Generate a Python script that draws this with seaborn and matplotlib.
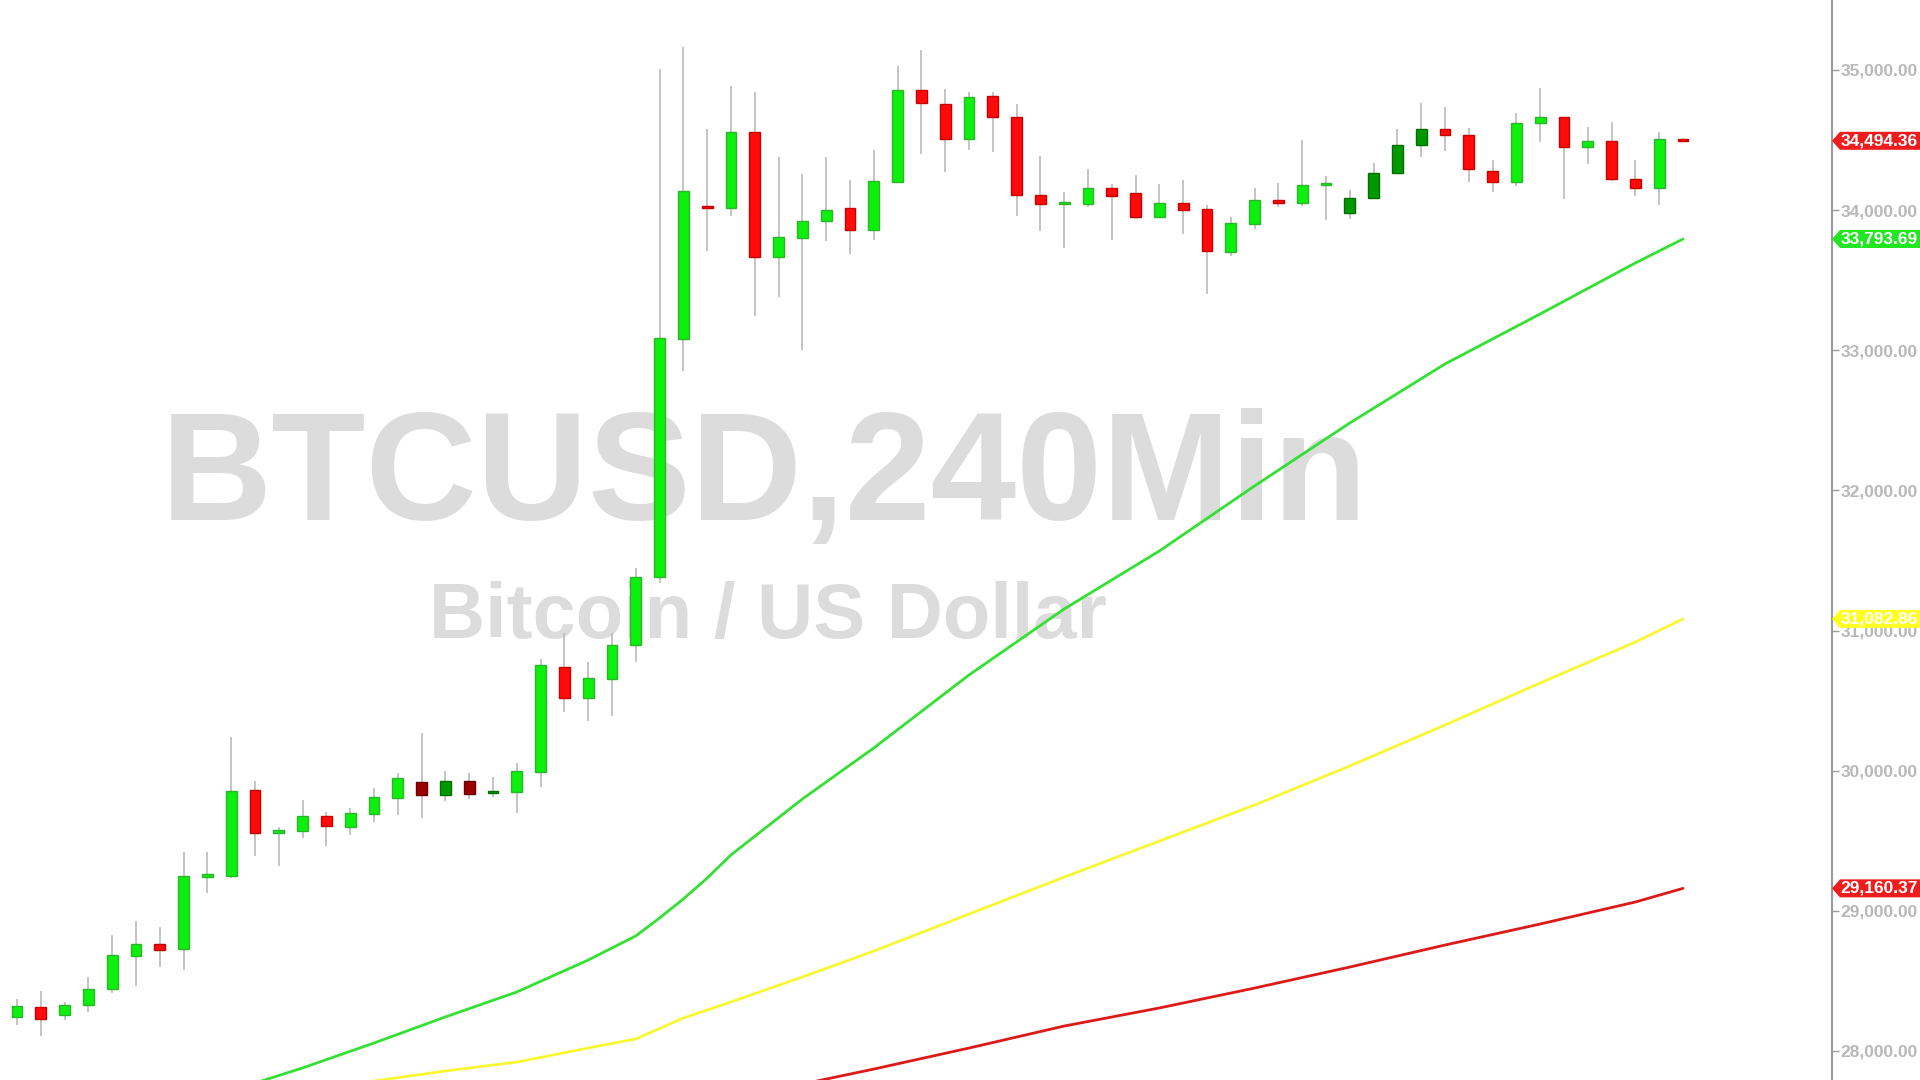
import numpy as np
import pandas as pd
import seaborn as sns
import matplotlib
matplotlib.use("Agg")
import matplotlib.pyplot as plt
from matplotlib.patches import Polygon

# 4h candles (left to right)
candle_open = [28243, 28314, 28257, 28328, 28442, 28678, 28763, 28728, 29241, 29249,
               29862, 29555, 29570, 29677, 29598, 29691, 29805, 29919, 29827, 29927,
               29841, 29848, 29991, 30740, 30519, 30654, 30897, 31382, 33080, 34030,
               34015, 34558, 33666, 33801, 33923, 34015, 33858, 34201, 34857, 34757,
               34508, 34814, 34665, 34108, 34044, 34044, 34158, 34122, 33951, 34051,
               34008, 33701, 33901, 34072, 34051, 34179, 33980, 34087, 34265, 34465,
               34579, 34536, 34279, 34201, 34622, 34665, 34451, 34493, 34222, 34158,
               34505]
candle_high = [28371, 28428, 28350, 28528, 28828, 28928, 28885, 29420, 29420, 30240,
               29926, 29598, 29791, 29705, 29734, 29877, 29984, 30269, 29998, 29984,
               29955, 30055, 30797, 30983, 30776, 30983, 31446, 35007, 35164, 34579,
               34886, 34843, 34379, 34258, 34379, 34215, 34429, 35029, 35143, 34864,
               34843, 34843, 34757, 34386, 34129, 34294, 34187, 34251, 34187, 34215,
               34037, 33951, 34158, 34194, 34500, 34244, 34144, 34336, 34579, 34765,
               34736, 34586, 34358, 34693, 34872, 34665, 34593, 34629, 34358, 34558,
               34515]
candle_low = [28185, 28107, 28221, 28278, 28414, 28464, 28599, 28578, 29127, 29234,
              29391, 29320, 29520, 29463, 29541, 29634, 29684, 29662, 29784, 29798,
              29812, 29698, 29884, 30419, 30355, 30390, 30776, 31339, 32852, 33708,
              33958, 33245, 33380, 33002, 33780, 33687, 33787, 34201, 34401, 34272,
              34429, 34415, 33958, 33851, 33730, 34022, 33787, 33937, 33951, 33830,
              33402, 33673, 33865, 34022, 34030, 33930, 33937, 34087, 34265, 34379,
              34422, 34201, 34129, 34172, 34486, 34079, 34329, 34208, 34101, 34037,
              34490]
candle_close = [28321, 28228, 28328, 28442, 28685, 28763, 28721, 29249, 29263, 29855,
                29555, 29577, 29677, 29605, 29698, 29812, 29948, 29827, 29927, 29834,
                29848, 29998, 30754, 30519, 30661, 30897, 31382, 33088, 34137, 34015,
                34558, 33666, 33808, 33923, 34001, 33858, 34208, 34857, 34765, 34508,
                34807, 34665, 34108, 34044, 34051, 34158, 34101, 33951, 34051, 34001,
                33708, 33908, 34072, 34051, 34179, 34187, 34087, 34265, 34465, 34579,
                34536, 34294, 34201, 34622, 34665, 34451, 34493, 34222, 34158, 34508,
                34494.36]
# u = up, d = down, U / D = dark variants
candle_kind = list("uduuuuduuu" "duuduuuDUD" "Uuuduuuuud" "uduuuduudd"
                   "uddduuddud" "duuduuUUUU" "ddduududdud")

# moving averages, read at candle positions
ma_fast_idx = [10, 12, 15, 18, 21, 24, 26, 27, 28, 29, 30, 33, 36, 40, 44, 48, 52, 56, 60, 64, 68, 70]
ma_fast_val = [27771, 27879, 28057, 28243, 28421, 28649, 28821, 28949, 29085, 29234, 29399,
               29798, 30162, 30683, 31154, 31568, 32032, 32481, 32902, 33259, 33623, 33793.69]
ma_mid_idx = [15, 18, 21, 24, 26, 28, 30, 33, 36, 40, 44, 48, 52, 56, 60, 64, 68, 70]
ma_mid_val = [27786, 27857, 27921, 28021, 28086, 28235, 28350, 28528, 28713, 28977, 29241,
              29498, 29755, 30034, 30326, 30626, 30918, 31082.86]
ma_slow_idx = [33, 36, 40, 44, 48, 52, 56, 60, 64, 68, 70]
ma_slow_val = [27764, 27871, 28021, 28178, 28307, 28449, 28599, 28756, 28906, 29063, 29160.37]

ticks = [28000, 29000, 30000, 31000, 32000, 33000, 34000, 35000]

sns.set_theme(style="white")
plt.rcParams["font.family"] = ["Liberation Sans", "DejaVu Sans"]

fig = plt.figure(figsize=(19.2, 10.8), dpi=100)
ax = fig.add_axes([0, 0, 1832 / 1920, 1])
ax.set_facecolor("white")
ax.set_xlim(-0.714, 76.26)
ax.set_ylim(27793, 35499)

# watermark
ax.text(0.417, 0.5185, "BTCUSD,240Min", transform=ax.transAxes, ha="center", va="baseline",
        fontsize=111, weight="bold", color="#dcdcdc", zorder=0)
ax.text(0.419, 0.4093, "Bitcoin / US Dollar", transform=ax.transAxes, ha="center", va="baseline",
        fontsize=56, weight="bold", color="#dcdcdc", zorder=0)

# moving averages
lines = [(ma_slow_idx, ma_slow_val, "#dd1a1a"),
         (ma_mid_idx, ma_mid_val, "#f7f733"),
         (ma_fast_idx, ma_fast_val, "#33e033")]
for idx, val, col in lines:
    df = pd.DataFrame({"i": idx, "v": val})
    sns.lineplot(data=df, x="i", y="v", ax=ax, color=col, lw=2, sort=False,
                 estimator=None, zorder=2)

# candles
fill = {"u": "#0df00d", "d": "#ff0a0a", "U": "#009a00", "D": "#9a0000"}
edge = {"u": "#2bb52b", "d": "#c80000", "U": "#006e00", "D": "#6a0000"}
x = np.arange(len(candle_open))
ax.vlines(x, candle_low, candle_high, color="#b4b4b4", lw=1.1, zorder=3)
for i in x:
    o, c, k = candle_open[i], candle_close[i], candle_kind[i]
    lo = min(o, c)
    h = max(abs(c - o), 12)
    ax.bar(i, h, bottom=lo, width=0.46, color=fill[k], edgecolor=edge[k], lw=1, zorder=4)

# axis styling
ax.yaxis.tick_right()
ax.set_yticks(ticks)
ax.set_yticklabels([f"{t:,.2f}" for t in ticks])
ax.tick_params(axis="y", direction="out", length=5, width=1, pad=1, color="#999999",
               labelcolor="#b8b8b8", labelsize=12.5)
for lab in ax.get_yticklabels():
    lab.set_fontweight("bold")
ax.set_xticks([])
for s in ["top", "left", "bottom"]:
    ax.spines[s].set_visible(False)
ax.spines["right"].set_color("#9a9a9a")
ax.spines["right"].set_linewidth(1.5)
ax.set_xlabel("")
ax.set_ylabel("")
ax.grid(False)

# price tags on the scale
tags = [(candle_close[-1], "#ee1c1c"), (ma_fast_val[-1], "#22e622"),
        (ma_mid_val[-1], "#ffff22"), (ma_slow_val[-1], "#ee1c1c")]
W, H = 1920, 1080
for v, col in tags:
    yp = ax.transData.transform((0, v))[1]
    pts = [(1832, yp), (1840, yp + 9), (1920, yp + 9), (1920, yp - 9), (1840, yp - 9)]
    fig.add_artist(Polygon([(px / W, py / H) for px, py in pts], closed=True,
                           transform=fig.transFigure, facecolor=col, edgecolor="none", zorder=5))
    fig.text(1879 / W, yp / H, f"{v:,.2f}", ha="center", va="center", color="white",
             fontsize=12.5, weight="bold", zorder=6)

fig.savefig("out.png", dpi=100, facecolor="white")
